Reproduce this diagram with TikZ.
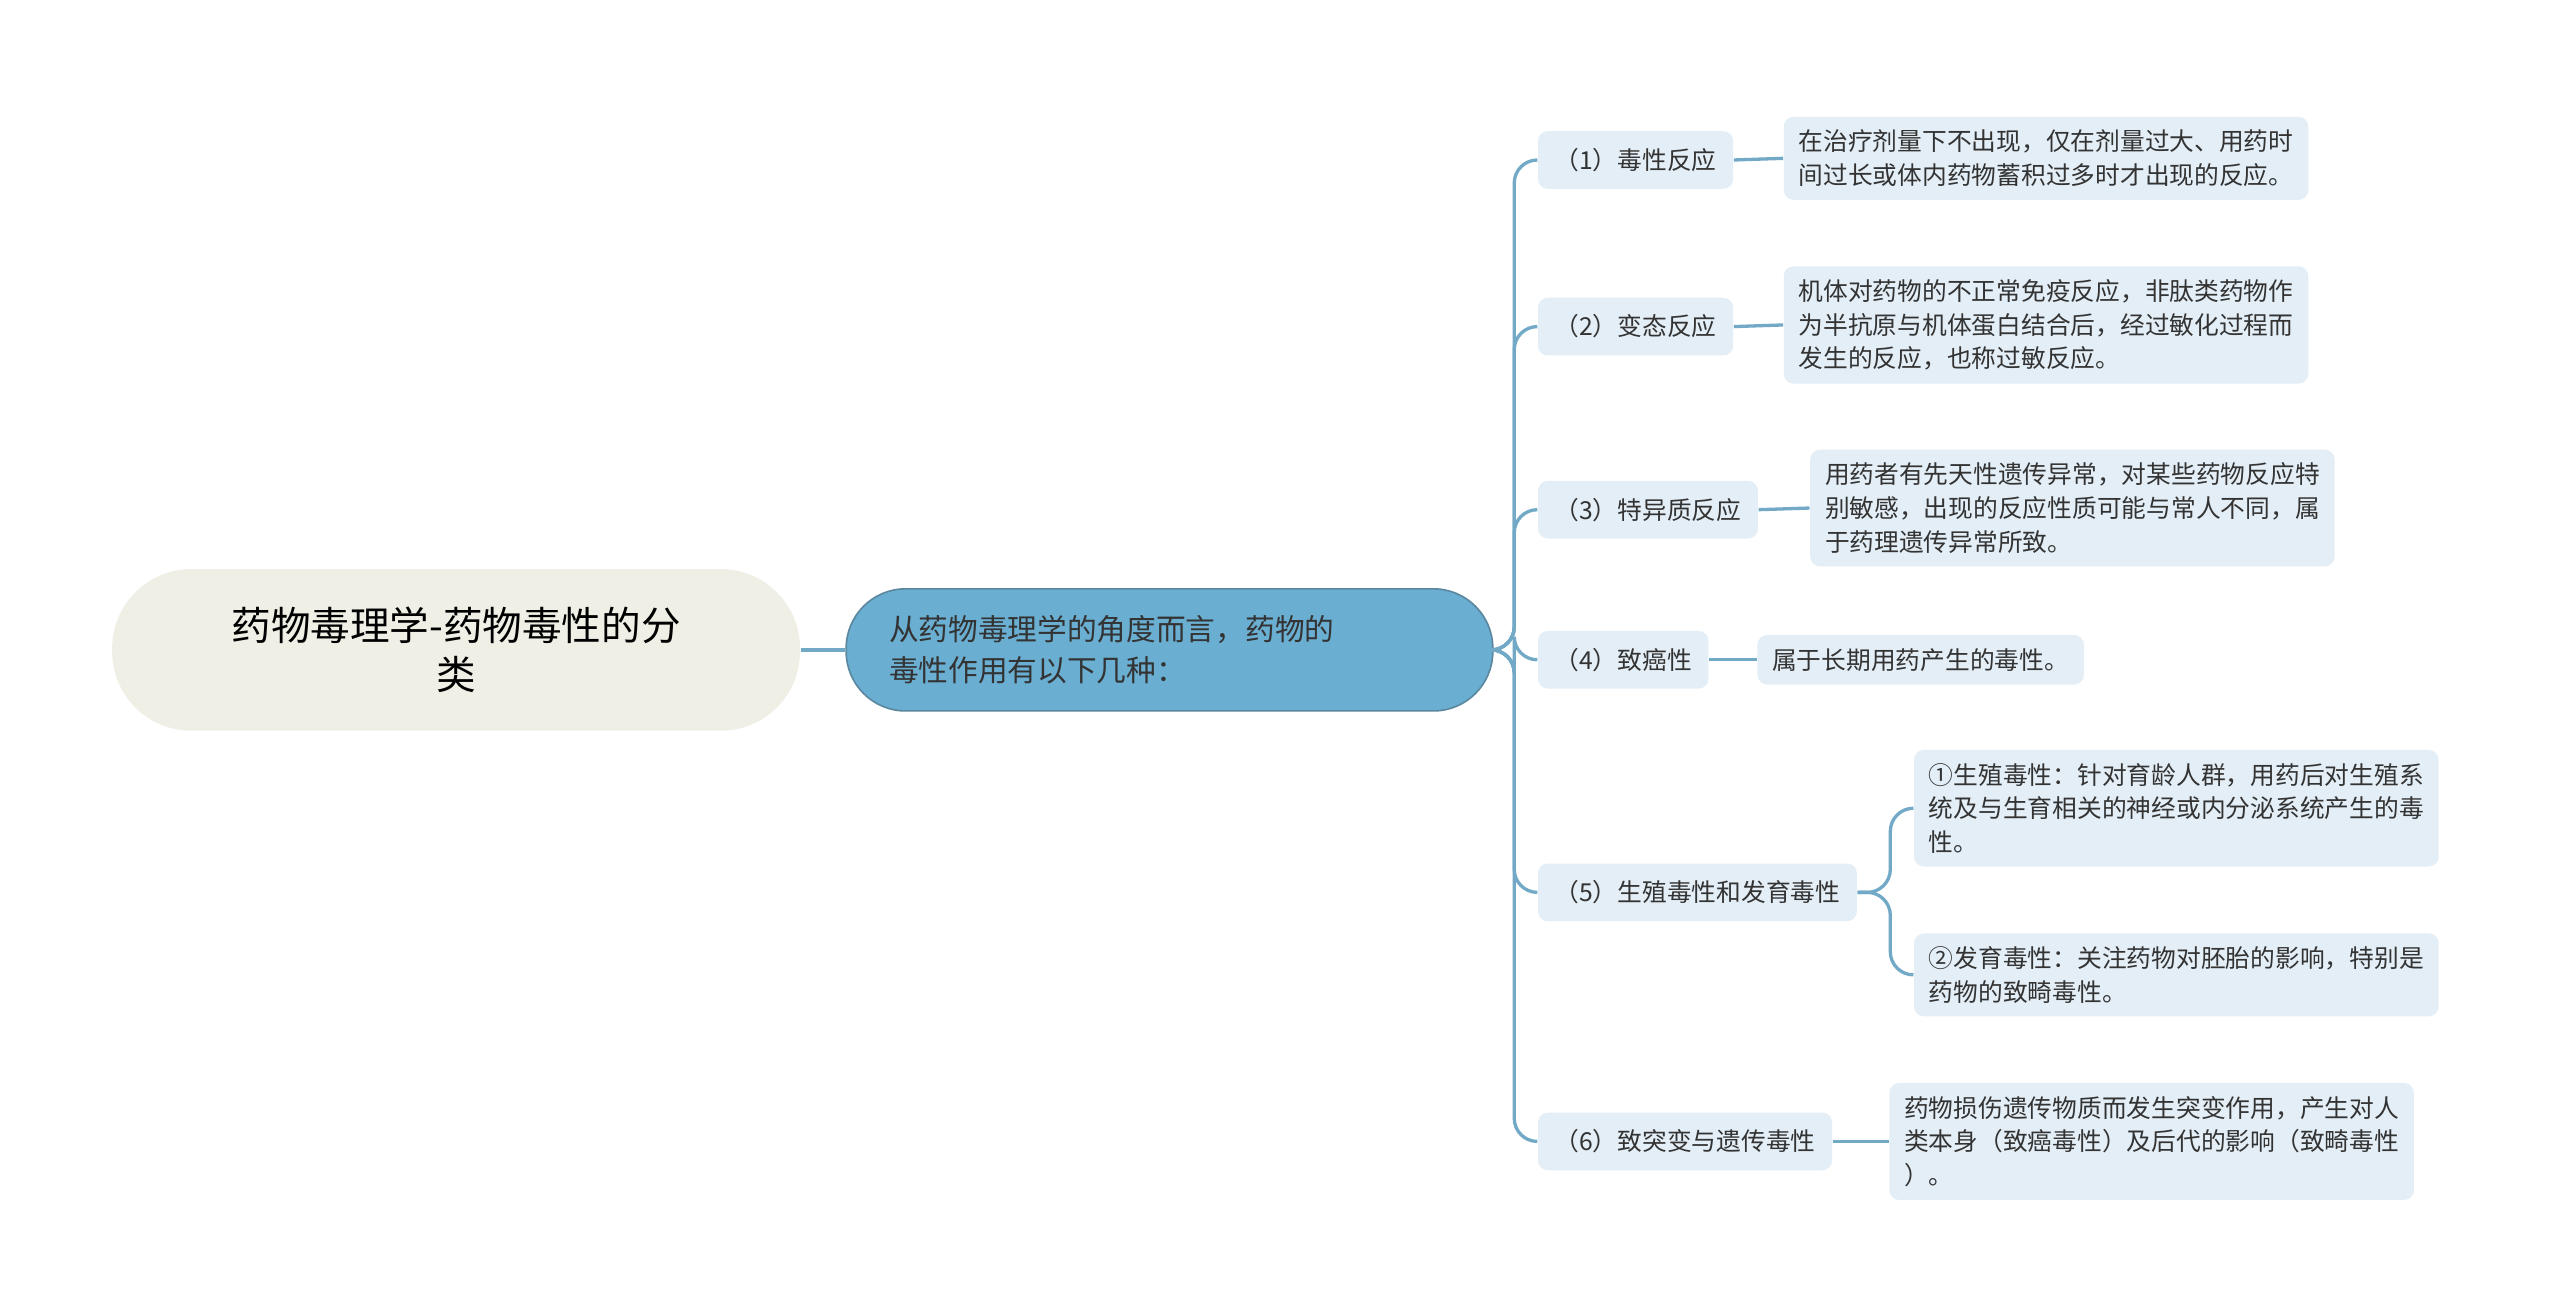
\documentclass[tikz,border=0pt]{standalone}
\usepackage{fontspec}
\setmainfont{Noto Sans CJK SC}
\begin{document}
\begin{tikzpicture}[x=0.5pt,y=-0.5pt,
  conn/.style={draw=lineblue,line width=1pt,rounded corners=7pt},
  child/.style={fill=pill,rounded corners=3pt,font=\fontsize{7.5}{10}\selectfont,text=txt,inner xsep=5pt,minimum height=17.5pt,anchor=west},
  leaf/.style={fill=pill,rounded corners=3pt,font=\fontsize{7.5}{10.2}\selectfont,text=txt,inner xsep=4.5pt,inner ysep=4pt,align=left,anchor=west}]
\definecolor{lineblue}{HTML}{72A9C7}
\definecolor{pill}{HTML}{E3EEF6}
\definecolor{txt}{HTML}{333333}
\definecolor{rootfill}{HTML}{EFEFE6}
\definecolor{mainfill}{HTML}{6AAFD2}
\useasboundingbox (0,0) rectangle (1552,790);
\fill[white] (0,0) rectangle (1552,790);
\node[fill=rootfill,rounded corners=24pt,minimum width=208.5pt,minimum height=49pt,align=center,font=\fontsize{12}{15}\selectfont,text=black] (root) at (276.5,394) {药物毒理学-药物毒性的分\\类};
\node[fill=mainfill,draw=lineblue!80!black,line width=0.5pt,rounded corners=18pt,minimum width=196pt,minimum height=37pt,align=left,font=\fontsize{9}{12.5}\selectfont,text=txt,text width=170pt] (main) at (709,394) {从药物毒理学的角度而言，药物的\\毒性作用有以下几种：};
\node[child] (c1) at (932,97) {（1）毒性反应};
\node[child] (c2) at (932,198) {（2）变态反应};
\node[child] (c3) at (932,309) {（3）特异质反应};
\node[child] (c4) at (932,400) {（4）致癌性};
\node[child] (c5) at (932,541) {（5）生殖毒性和发育毒性};
\node[child] (c6) at (932,692) {（6）致突变与遗传毒性};
\node[leaf] (l1) at (1081,96) {在治疗剂量下不出现，仅在剂量过大、用药时\\间过长或体内药物蓄积过多时才出现的反应。};
\node[leaf] (l2) at (1081,197) {机体对药物的不正常免疫反应，非肽类药物作\\为半抗原与机体蛋白结合后，经过敏化过程而\\发生的反应，也称过敏反应。};
\node[leaf] (l3) at (1097,308) {用药者有先天性遗传异常，对某些药物反应特\\别敏感，出现的反应性质可能与常人不同，属\\于药理遗传异常所致。};
\node[leaf] (l4) at (1065,400) {属于长期用药产生的毒性。};
\node[leaf] (l5a) at (1160,490) {①生殖毒性：针对育龄人群，用药后对生殖系\\统及与生育相关的神经或内分泌系统产生的毒\\性。};
\node[leaf] (l5b) at (1160,591) {②发育毒性：关注药物对胚胎的影响，特别是\\药物的致畸毒性。};
\node[leaf] (l6) at (1145,692) {药物损伤遗传物质而发生突变作用，产生对人\\类本身（致癌毒性）及后代的影响（致畸毒性\\）。};
\draw[conn] (root.east) -- (main.west);
\foreach \c in {c1,c2,c3,c4,c5,c6}{\draw[conn] (main.east) -- (918,394) |- (\c.west);}
\draw[conn] (c1.east) -- (l1.west);
\draw[conn] (c2.east) -- (l2.west);
\draw[conn] (c3.east) -- (l3.west);
\draw[conn] (c4.east) -- (l4.west);
\draw[conn] (c6.east) -- (l6.west);
\draw[conn] (c5.east) -- (1146,541) |- (l5a.west);
\draw[conn] (c5.east) -- (1146,541) |- (l5b.west);
\end{tikzpicture}
\end{document}
